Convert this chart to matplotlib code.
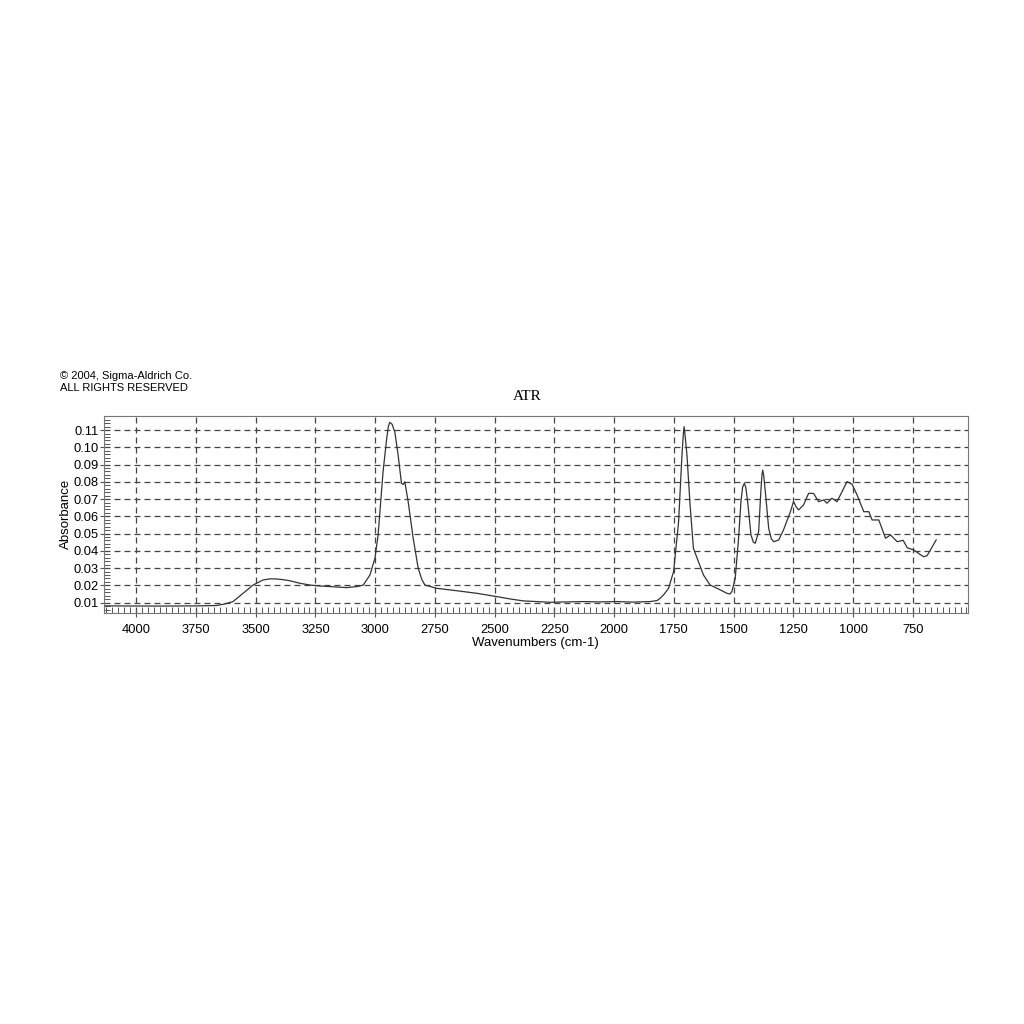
import matplotlib
matplotlib.use("Agg")
import matplotlib.pyplot as plt
from matplotlib.ticker import MultipleLocator

plt.rcParams['font.family'] = ['Liberation Sans', 'DejaVu Sans']
plt.rcParams['lines.scale_dashes'] = False

# Spectrum (wavenumber cm-1, absorbance)
wavenumber = [4130, 3900, 3750, 3665, 3630, 3595, 3553, 3511, 3470, 3440, 3413, 3385, 3358, 3315,
              3274, 3230, 3190, 3120, 3075, 3050, 3022, 3001, 2988, 2967, 2952, 2945, 2939, 2930,
              2918, 2904, 2890, 2883, 2876, 2862, 2841, 2820, 2805, 2792, 2743, 2659, 2575, 2492,
              2430, 2380, 2268, 2200, 2129, 2060, 1989, 1920, 1849, 1820, 1807, 1790, 1772, 1751,
              1730, 1716, 1710, 1707, 1703, 1695, 1682, 1668, 1647, 1626, 1598, 1556, 1528, 1515,
              1507, 1493, 1479, 1469, 1462, 1455, 1449, 1441, 1427, 1417, 1409, 1395, 1385, 1381,
              1378, 1374, 1367, 1353, 1342, 1332, 1311, 1291, 1262, 1249, 1238, 1228, 1207,
              1186, 1165, 1144, 1123, 1109, 1088, 1067, 1046, 1025, 1004, 983, 955,
              934, 920, 892, 864, 843, 815, 790, 773, 746, 720, 704, 690, 676, 652]
absorbance = [0.0081, 0.0080, 0.0081, 0.0083, 0.0092, 0.0106, 0.0154, 0.0202, 0.0231, 0.0238,
              0.0237, 0.0233, 0.0227, 0.0212, 0.0202, 0.0196, 0.0193, 0.0187, 0.0193, 0.0202,
              0.0260, 0.0357, 0.0490, 0.0859, 0.1050, 0.1120, 0.1145, 0.1135, 0.1090, 0.0955,
              0.0791, 0.0785, 0.0800, 0.0685, 0.0473, 0.0299, 0.0235, 0.0202, 0.0183,
              0.0169, 0.0154, 0.0135, 0.0120, 0.0110, 0.0102, 0.0104, 0.0106, 0.0104, 0.0106,
              0.0103, 0.0106, 0.0112, 0.0125, 0.0150, 0.0183, 0.0280, 0.0569, 0.0955, 0.1080,
              0.1120, 0.1070, 0.0955, 0.0666, 0.0415, 0.0337, 0.0260, 0.0202, 0.0174, 0.0154,
              0.0150, 0.0164, 0.0241, 0.0473, 0.0685, 0.0770, 0.0791, 0.0770, 0.0685, 0.0492,
              0.0450, 0.0444, 0.0511, 0.0762, 0.0840, 0.0868, 0.0840, 0.0743, 0.0531, 0.0470,
              0.0453, 0.0463, 0.0521, 0.0627, 0.0685, 0.0655, 0.0637, 0.0666, 0.0733,
              0.0733, 0.0685, 0.0695, 0.0676, 0.0705, 0.0685, 0.0743, 0.0801, 0.0786,
              0.0724, 0.0627, 0.0627, 0.0579, 0.0579, 0.0473, 0.0492, 0.0453, 0.0461,
              0.0418, 0.0405, 0.0380, 0.0366, 0.0372, 0.0405, 0.0463]

x_ticks = [4000, 3750, 3500, 3250, 3000, 2750, 2500, 2250, 2000, 1750, 1500, 1250, 1000, 750]
y_ticks = [0.01, 0.02, 0.03, 0.04, 0.05, 0.06, 0.07, 0.08, 0.09, 0.10, 0.11]

fig = plt.figure(figsize=(10.24, 10.24), dpi=100)
ax = fig.add_axes([0.1016, 0.4014, 0.945 - 0.1016, 0.594 - 0.4014])

ax.plot(wavenumber, absorbance, color='#333333', linewidth=0.9)

ax.set_xlim(4135, 520)
ax.set_ylim(0.004, 0.1183)
ax.set_xticks(x_ticks)
ax.set_xticklabels([str(v) for v in x_ticks], fontsize=9.3)
ax.set_yticks(y_ticks)
ax.set_yticklabels([f"{v:.2f}" for v in y_ticks], fontsize=9.3)
ax.xaxis.set_minor_locator(MultipleLocator(25))
ax.yaxis.set_minor_locator(MultipleLocator(0.002))

ax.tick_params(axis='x', which='major', direction='inout', length=6, width=0.8, color='#555555', pad=5)
ax.tick_params(axis='x', which='minor', direction='in', length=4, width=0.7, color='#555555')
ax.tick_params(axis='y', which='major', direction='out', length=3, width=0.8, color='#555555', pad=1)
ax.tick_params(axis='y', which='minor', direction='in', length=4, width=0.7, color='#555555')

ax.grid(True, which='major', color='#444444', linewidth=0.9, linestyle=(0, (4.3, 2.9)))
for s in ax.spines.values():
    s.set_color('#777777')
    s.set_linewidth(0.8)

ax.set_xlabel('Wavenumbers (cm-1)', fontsize=9.5, labelpad=0.5)
ax.set_ylabel('Absorbance', fontsize=9.5, labelpad=1)

fig.text(527 / 1024, 1 - 396 / 1024, 'ATR', fontsize=11, family=['Liberation Serif', 'DejaVu Serif'],
         ha='center', va='center')
fig.text(60 / 1024, 1 - 376 / 1024, '\u00a9 2004, Sigma-Aldrich Co.', fontsize=8, ha='left', va='center')
fig.text(60 / 1024, 1 - 388 / 1024, 'ALL RIGHTS RESERVED', fontsize=8, ha='left', va='center')

fig.savefig('out.png', dpi=100, facecolor='white')
